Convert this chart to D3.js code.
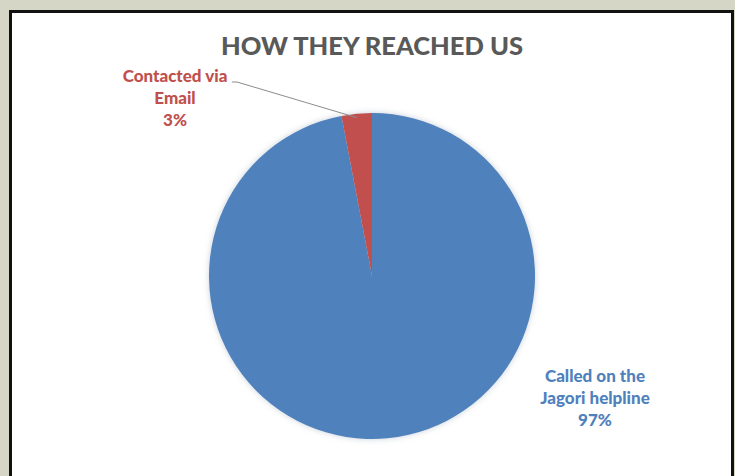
<!DOCTYPE html>
<html><head><meta charset="utf-8">
<script src="https://cdn.jsdelivr.net/npm/d3@7"></script>
<style>html,body{margin:0;padding:0;background:#d6d6c6;}svg{display:block;}</style>
</head><body>
<script>
const categories = ["Called on the Jagori helpline", "Contacted via Email"];
const values = [97, 3];
const labelLines = [["Called on the", "Jagori helpline", "97%"], ["Contacted via", "Email", "3%"]];
const colors = ["#4f81bd", "#c0504d"];
const title = "HOW THEY REACHED US";

const W = 735, H = 476;
const svg = d3.select("body").append("svg").attr("width", W).attr("height", H);
svg.append("rect").attr("width", W).attr("height", H).attr("fill", "#d6d6c6");
svg.append("rect").attr("x", 10.5).attr("y", 11.5).attr("width", 722).attr("height", 480)
  .attr("fill", "#fff").attr("stroke", "#111").attr("stroke-width", 3);

const defs = svg.append("defs");
const f = defs.append("filter").attr("id", "glow").attr("x", "-20%").attr("y", "-20%").attr("width", "140%").attr("height", "140%");
f.append("feGaussianBlur").attr("in", "SourceAlpha").attr("stdDeviation", 3).attr("result", "b");
f.append("feFlood").attr("flood-color", "#8899aa").attr("flood-opacity", 0.45);
f.append("feComposite").attr("in2", "b").attr("operator", "in").attr("result", "s");
const m = f.append("feMerge"); m.append("feMergeNode").attr("in", "s"); m.append("feMergeNode").attr("in", "SourceGraphic");

svg.append("text").attr("x", 372).attr("y", 55).attr("text-anchor", "middle")
  .attr("font-family", "Lato, 'Open Sans', sans-serif").attr("font-weight", 900)
  .attr("font-size", 25.5).attr("fill", "#595959").text(title);

const cx = 372, cy = 276, r = 163;
const pie = d3.pie().sort(null).value(d => d)(values);
const arc = d3.arc().innerRadius(0).outerRadius(r);
const g = svg.append("g").attr("transform", `translate(${cx},${cy})`);
g.append("g").attr("filter", "url(#glow)").selectAll("path").data(pie).join("path")
  .attr("d", arc).attr("fill", (d, i) => colors[i]);

// leader line for small slice
const mid = (pie[1].startAngle + pie[1].endAngle) / 2;
const pEdge = [cx + Math.sin(mid) * (r - 4), cy - Math.cos(mid) * (r - 4)];
svg.append("polyline").attr("points", `232,82 237,82 ${pEdge[0]},${pEdge[1]}`)
  .attr("fill", "none").attr("stroke", "#8c8c8c").attr("stroke-width", 1);

const labelPos = [[595, 382], [175, 82]];
labelLines.forEach((lines, i) => {
  const t = svg.append("text").attr("text-anchor", "middle")
    .attr("font-family", "Lato, 'Open Sans', sans-serif").attr("font-weight", 900)
    .attr("font-size", 17).attr("fill", colors[i]);
  lines.forEach((l, j) => t.append("tspan").attr("x", labelPos[i][0]).attr("y", labelPos[i][1] + j * 22).text(l));
});
</script>
</body></html>
